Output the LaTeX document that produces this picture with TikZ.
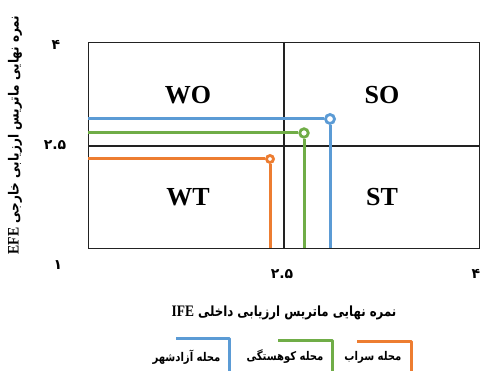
\documentclass[tikz,border=0pt]{standalone}
\usepackage{fontspec}
\setmainfont{Liberation Serif}
\newfontfamily\fa[Script=Arabic]{DejaVu Sans}
\TeXXeTstate=1
\definecolor{cblue}{HTML}{5B9BD5}
\definecolor{cgreen}{HTML}{70AD47}
\definecolor{corange}{HTML}{ED7D31}
\definecolor{frm}{HTML}{222222}
\newcommand{\narrow}[2]{\scalebox{#1}[1]{#2}}
\tikzset{
  frame/.style={draw=frm, line width=1.3pt},
  quad/.style={font=\fontsize{26}{26}\selectfont\bfseries, text=black},
  tick/.style={font=\fa\bfseries\fontsize{14}{14}\selectfont, text=black},
  axlab/.style={font=\fa\bfseries\fontsize{14}{14}\selectfont, text=black},
  leglab/.style={font=\fa\bfseries\fontsize{12}{12}\selectfont, text=black, anchor=east},
  cline/.style={line width=3pt},
  pt/.style={circle, fill=white, line width=2.8pt, inner sep=0pt},
}
\begin{document}
\begin{tikzpicture}[x=1pt,y=-1pt]
\useasboundingbox (0,0) rectangle (481,371);
% frame and quadrants
\node[frame, rectangle, minimum width=391pt, minimum height=206pt, anchor=north west, inner sep=0pt] (box) at (88,42) {};
\coordinate (vt) at (284,42);
\coordinate (vb) at (284,248);
\coordinate (hl) at (88,146);
\coordinate (hr) at (479,146);
\draw[frame] (vt) -- (vb);
\draw[frame] (hl) -- (hr);
\node[quad] (wo) at (188,95) {WO};
\node[quad] (so) at (382,95) {SO};
\node[quad] (wt) at (188,197) {WT};
\node[quad] (st) at (382,197) {ST};
% ticks
\node[tick] (y4) at (56,45) {۴};
\node[tick] (y25) at (55,145) {۲.۵};
\node[tick] (y1) at (58,265) {۱};
\node[tick] (x25) at (282,274) {۲.۵};
\node[tick] (x4) at (476,274) {۴};
% axis labels
\node[axlab] (xlab) at (284,313) {\narrow{0.84}{\beginR نمره نهایی ماتریس ارزیابی داخلی {\rmfamily\bfseries\fontsize{16}{16}\selectfont\beginL IFE\endL}\endR}};
\node[axlab, rotate=90] (ylab) at (15,135) {\narrow{0.86}{\beginR نمره نهایی ماتریس ارزیابی خارجی {\rmfamily\bfseries\fontsize{16}{16}\selectfont\beginL EFE\endL}\endR}};
% blue
\coordinate (bl) at (88,119);
\coordinate (bb) at (330,248);
\node[pt, draw=cblue, minimum size=9pt] (bp) at (330,119) {};
\draw[cline, cblue] (bl) -- (bp.west);
\draw[cline, cblue] (bp.south) -- (bb);
% green
\coordinate (gl) at (88,133);
\coordinate (gb) at (304,248);
\node[pt, draw=cgreen, minimum size=8.5pt] (gp) at (304,133) {};
\draw[cline, cgreen] (gl) -- (gp.west);
\draw[cline, cgreen] (gp.south) -- (gb);
% orange
\coordinate (ol) at (88,159);
\coordinate (ob) at (270,248);
\node[pt, draw=corange, minimum size=7pt] (op) at (270,159) {};
\draw[cline, corange] (ol) -- (op.west);
\draw[cline, corange] (op.south) -- (ob);
% legend
\coordinate (lb1) at (176,338);
\coordinate (lb2) at (229,338);
\coordinate (lb3) at (229,371);
\draw[cline, cblue, line join=round] (lb1) -- (lb2) -- (lb3);
\node[leglab] (lbt) at (224,357) {\narrow{0.84}{\beginR محله آزادشهر\endR}};
\coordinate (lg1) at (278,340);
\coordinate (lg2) at (332,340);
\coordinate (lg3) at (332,371);
\draw[cline, cgreen, line join=round] (lg1) -- (lg2) -- (lg3);
\node[leglab] (lgt) at (327,357) {\narrow{0.84}{\beginR محله کوهستگی\endR}};
\coordinate (lo1) at (357,341);
\coordinate (lo2) at (411,341);
\coordinate (lo3) at (411,371);
\draw[cline, corange, line join=round] (lo1) -- (lo2) -- (lo3);
\node[leglab] (lot) at (405,357) {\narrow{0.84}{\beginR محله سراب\endR}};
\end{tikzpicture}
\end{document}
